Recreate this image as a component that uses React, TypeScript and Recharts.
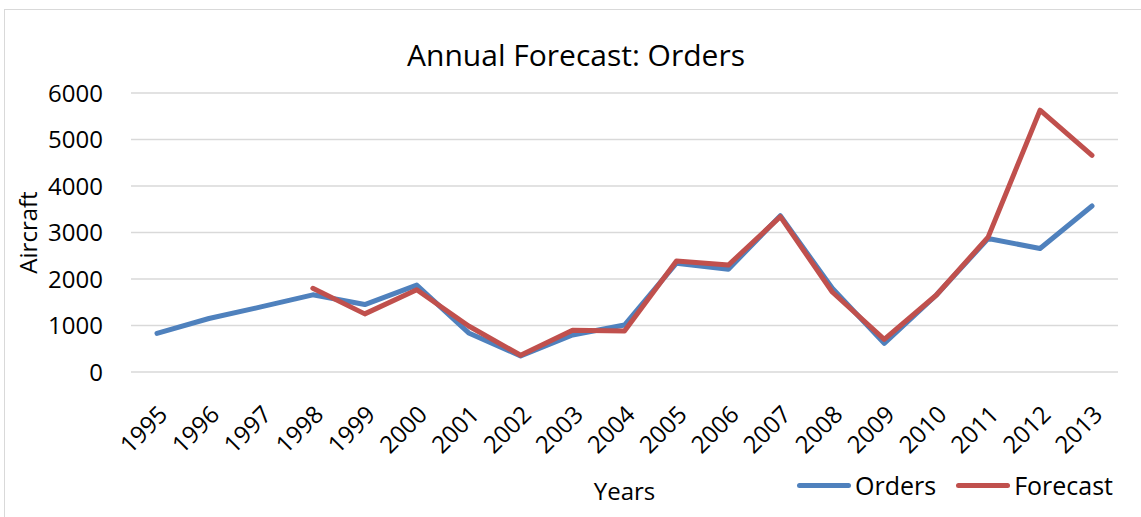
import React from 'react';
import { LineChart, Line, XAxis, YAxis, CartesianGrid, Legend } from 'recharts';

// values
const years = ['1995', '1996', '1997', '1998', '1999', '2000', '2001', '2002', '2003', '2004',
  '2005', '2006', '2007', '2008', '2009', '2010', '2011', '2012', '2013'];
const orders = [830, 1150, 1400, 1660, 1450, 1870, 840, 345, 795, 1010,
  2340, 2210, 3360, 1800, 615, 1650, 2870, 2655, 3570];
const forecast = [null, null, null, 1800, 1250, 1770, 990, 360, 900, 880,
  2385, 2300, 3340, 1720, 700, 1650, 2900, 5630, 4660];
const yTicks = [0, 1000, 2000, 3000, 4000, 5000, 6000];

const data = years.map((y, i) => ({ year: y, Orders: orders[i], Forecast: forecast[i] }));

const FONT = '"Open Sans", sans-serif';
const BLUE = '#4F81BD';
const RED = '#C0504D';

if (typeof document !== 'undefined') document.body.style.margin = '0';

const LegendBox = () => (
  <div style={{ display: 'flex', alignItems: 'center', fontFamily: FONT, fontSize: 25, color: '#000' }}>
    <span style={{ width: 54, height: 5, borderRadius: 3, background: BLUE, display: 'inline-block' }} />
    <span style={{ marginLeft: 4 }}>Orders</span>
    <span style={{ width: 54, height: 5, borderRadius: 3, background: RED, display: 'inline-block', marginLeft: 20 }} />
    <span style={{ marginLeft: 4 }}>Forecast</span>
  </div>
);

export default function App() {
  return (
    <div style={{ position: 'relative', width: 1141, height: 517, overflow: 'hidden', background: '#fff' }}>
      <div style={{ position: 'absolute', left: 4, top: 9, width: 1160, height: 540, border: '1.5px solid #D9D9D9' }} />
      <div style={{ position: 'absolute', left: 0, width: 1152, top: 34, textAlign: 'center', fontFamily: FONT, fontSize: 30, color: '#000' }}>
        Annual Forecast: Orders
      </div>
      <div style={{ position: 'absolute', left: 0, top: 0 }}>
        <LineChart width={1141} height={517} data={data} margin={{ top: 93, right: 23, left: 10, bottom: 0 }}>
          <CartesianGrid vertical={false} stroke="#D9D9D9" strokeWidth={1.5} />
          <XAxis
            dataKey="year"
            interval={0}
            padding={{ left: 26, right: 26 }}
            axisLine={false}
            tickLine={false}
            height={145}
            tickMargin={26}
            angle={-45}
            textAnchor="end"
            tick={{ fill: '#000', fontSize: 24, fontFamily: FONT }}
            label={{ value: 'Years', position: 'insideBottom', offset: 17, fill: '#000', fontSize: 24, fontFamily: FONT }}
          />
          <YAxis
            domain={[0, 6000]}
            ticks={yTicks}
            axisLine={false}
            tickLine={false}
            tickSize={0}
            tickMargin={28}
            width={121}
            tick={{ fill: '#000', fontSize: 24, fontFamily: FONT }}
            label={{ value: 'Aircraft', angle: -90, position: 'insideLeft', offset: 18, fill: '#000', fontSize: 24, fontFamily: FONT, style: { textAnchor: 'middle' } }}
          />
          <Legend
            layout="horizontal"
            verticalAlign="middle"
            content={<LegendBox />}
            wrapperStyle={{ position: 'absolute', left: 797, top: 468, width: 340 }}
          />
          <Line type="linear" dataKey="Orders" stroke={BLUE} strokeWidth={5} dot={false} strokeLinecap="round" strokeLinejoin="round" isAnimationActive={false} />
          <Line type="linear" dataKey="Forecast" stroke={RED} strokeWidth={5} dot={false} strokeLinecap="round" strokeLinejoin="round" isAnimationActive={false} />
        </LineChart>
      </div>
    </div>
  );
}
